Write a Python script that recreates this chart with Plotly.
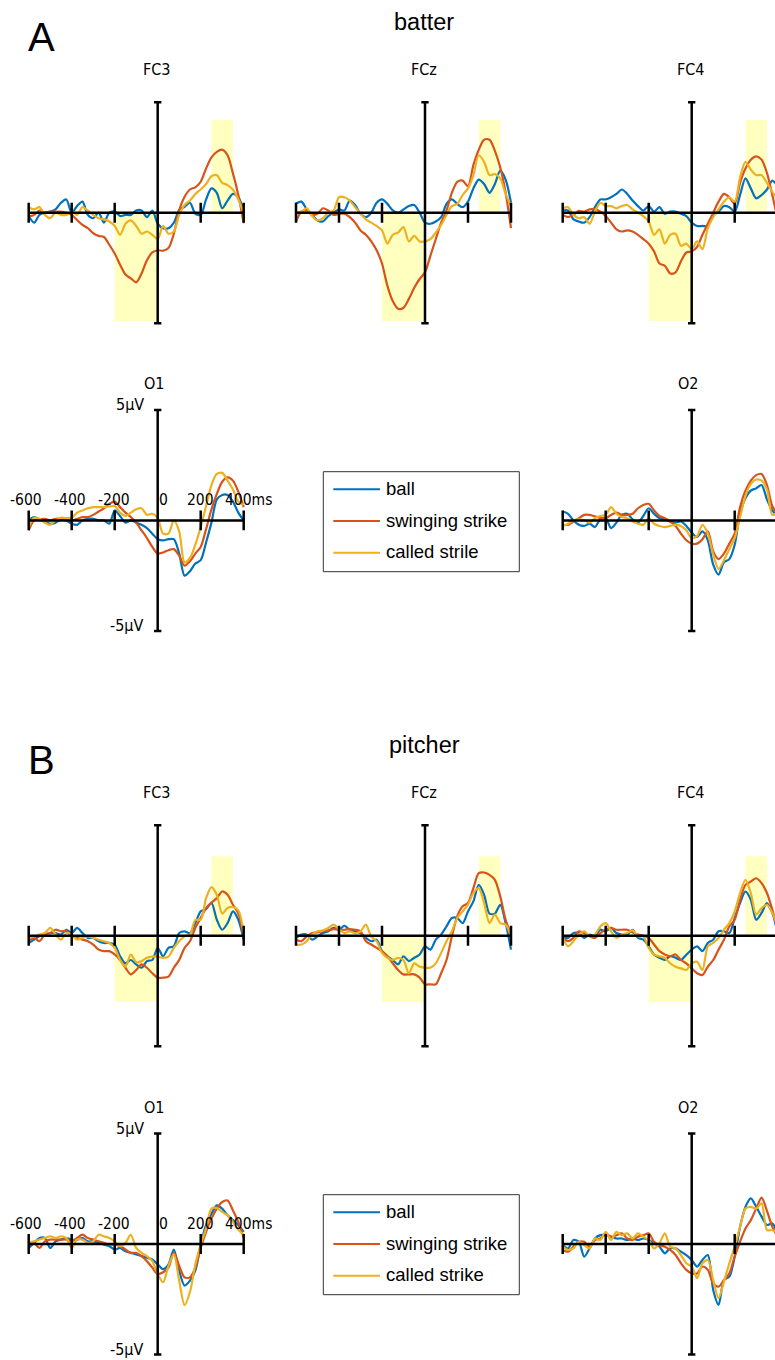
import plotly.graph_objects as go

W, H = 775, 1360

# ---------------- data ----------------
time_ms = list(range(-600, 401, 25))

series_names = ["ball", "swinging strike", "called strike"]
legend_labels_batter = ["ball", "swinging strike", "called strile"]
legend_labels_pitcher = ["ball", "swinging strike", "called strike"]
series_colors = ["#0072BD", "#D95319", "#EDB120"]

# batter (A)
batter_FC3_ball = [-0.15,-0.45,-0.1,0.0,0.05,0.15,0.45,0.6,0.0,0.3,0.5,-0.1,-0.25,0.0,-0.45,0.0,0.05,-0.15,-0.1,-0.1,0.1,0.1,-0.2,0.1,-0.5,-0.7,-0.7,-0.45,0.12,0.27,0.45,-0.05,-0.1,0.6,1.1,0.9,0.2,0.55,0.85,0.7,0.1]
batter_FC3_swing = [-0.18,-0.1,0.1,0.0,0.05,0.05,0.05,0.0,-0.1,-0.33,-0.55,-0.7,-0.93,-1.05,-1.1,-1.45,-1.85,-2.35,-2.8,-2.97,-3.15,-2.75,-2.15,-1.8,-1.7,-1.72,-1.6,-0.95,0.12,0.72,1.05,1.15,1.4,2.0,2.5,2.75,2.85,2.6,1.78,0.8,-0.48]
batter_FC3_called = [0.25,0.15,0.25,-0.1,-0.25,0.0,-0.1,-0.1,0.05,-0.1,0.25,0.1,-0.1,-0.25,-0.3,-0.4,-0.6,-1.0,-0.5,-0.35,-0.6,-0.95,-0.85,-1.0,-1.2,-0.6,-0.95,-0.85,-0.1,0.35,0.55,0.85,1.05,1.3,1.65,1.7,1.35,1.25,1.05,0.6,0.0]

batter_FCz_ball = [0.42,0.5,0.15,-0.1,-0.35,-0.4,-0.15,0.0,0.15,0.1,0.55,0.35,-0.05,-0.2,0.0,0.45,0.6,0.4,0.1,0.0,0.15,0.3,0.35,0.0,-0.45,-0.5,-0.4,-0.2,0.4,0.6,0.4,0.25,0.5,1.1,1.5,1.3,0.9,1.3,1.9,1.5,0.45]
batter_FCz_swing = [-0.4,0.05,0.1,-0.1,-0.05,0.2,0.1,-0.1,-0.05,-0.05,-0.2,-0.45,-0.8,-1.0,-1.3,-1.7,-2.3,-3.3,-4.0,-4.35,-4.3,-3.9,-3.4,-3.0,-2.7,-1.95,-1.2,-0.45,0.1,0.9,1.4,1.45,1.2,2.15,2.85,3.3,3.3,2.8,2.05,0.9,-0.7]
batter_FCz_called = [0.0,0.05,0.2,-0.15,-0.35,-0.25,0.0,0.1,0.7,0.7,0.55,0.25,-0.05,-0.3,-0.45,-0.6,-0.8,-1.4,-1.0,-0.9,-0.65,-1.3,-1.05,-1.3,-1.3,-1.2,-0.9,-0.55,-0.1,0.3,0.4,0.8,1.1,1.7,2.6,2.3,1.7,1.75,1.55,0.85,0.3]

batter_FC4_ball = [0.1,0.1,-0.3,-0.4,-0.45,-0.2,0.25,0.6,0.6,0.7,0.85,1.05,0.85,0.55,0.3,0.1,0.3,0.05,0.25,-0.05,0.05,0.05,-0.05,-0.15,-0.45,-0.6,-0.6,-0.6,-0.1,0.05,0.3,0.25,0.05,0.8,1.55,1.1,0.65,0.8,1.05,1.45,1.2]
batter_FC4_swing = [-0.1,-0.2,-0.1,0.08,0.05,0.15,0.15,0.05,-0.15,-0.45,-0.75,-0.85,-0.8,-0.85,-1.0,-1.2,-1.4,-1.75,-2.3,-2.4,-2.75,-2.7,-2.2,-1.8,-1.75,-1.55,-1.0,-0.5,0.0,0.5,0.85,0.7,0.4,1.35,2.0,2.4,2.55,2.4,1.8,0.8,-0.3]
batter_FC4_called = [0.2,0.25,-0.1,-0.25,-0.2,-0.5,0.05,0.45,0.3,0.3,0.2,0.3,0.35,0.15,0.0,-0.15,-0.4,-1.0,-0.75,-1.4,-1.0,-0.95,-1.5,-1.4,-1.65,-1.3,-1.65,-0.7,-0.2,0.15,0.5,0.7,0.5,1.6,2.3,1.95,1.7,1.7,1.35,0.95,0.6]

batter_O1_ball = [0.0,0.15,0.05,-0.05,-0.15,-0.1,0.05,0.0,-0.15,-0.2,0.0,0.07,0.07,0.0,0.0,-0.15,0.45,0.2,-0.1,0.0,-0.1,-0.2,-0.35,-0.6,-0.85,-0.9,-0.85,-0.85,-1.5,-2.5,-2.3,-1.95,-1.8,-1.0,-0.1,0.95,1.15,1.15,0.85,0.35,0.0]
batter_O1_swing = [-0.45,0.0,0.05,0.07,0.0,0.07,0.07,0.0,0.0,0.07,0.15,0.15,0.25,0.4,0.55,0.75,0.85,0.6,0.35,0.15,-0.1,-0.45,-0.8,-1.2,-1.5,-1.45,-1.35,-1.3,-1.6,-2.05,-1.85,-1.5,-1.2,-0.4,0.5,1.2,1.75,1.95,1.8,1.3,0.6]
batter_O1_called = [-0.3,0.12,0.07,-0.1,-0.2,0.0,0.12,0.1,0.12,0.35,0.45,0.55,0.6,0.6,0.6,0.63,0.65,0.35,0.2,0.35,0.5,0.55,0.25,0.3,0.1,-0.6,-0.6,0.0,-0.5,-1.9,-1.7,-1.1,-0.3,0.65,1.6,2.1,2.15,1.8,1.4,0.85,0.7]

batter_O2_ball = [0.4,0.3,0.0,-0.2,-0.25,-0.15,-0.3,0.05,0.1,-0.35,-0.1,0.25,0.3,0.05,-0.1,0.2,0.55,0.3,0.1,0.05,-0.05,-0.1,-0.05,-0.25,-0.55,-0.75,-0.5,-0.9,-2.0,-2.45,-1.9,-1.75,-1.1,0.3,1.0,1.35,1.45,1.6,0.95,0.45,0.2]
batter_O2_swing = [-0.2,-0.2,-0.05,0.1,0.25,0.25,0.18,0.1,0.1,0.25,0.35,0.25,0.25,0.3,0.55,0.7,0.75,0.45,0.2,0.1,-0.05,-0.25,-0.6,-0.9,-1.05,-1.05,-0.85,-0.5,-1.4,-1.75,-1.5,-1.05,-0.6,0.6,1.35,1.8,2.05,2.1,1.6,0.65,0.3]
batter_O2_called = [-0.25,-0.15,0.0,0.05,0.0,-0.1,0.1,0.2,0.25,0.6,0.3,0.15,0.1,-0.05,-0.15,-0.2,0.1,-0.15,-0.25,-0.3,-0.25,-0.2,-0.25,-0.45,-0.8,-0.7,-0.2,-0.6,-1.55,-2.2,-1.8,-1.3,-0.8,0.15,1.1,1.65,1.85,1.8,1.4,0.25,0.35]

# pitcher (B)
pitcher_FC3_ball = [-0.33,-0.18,-0.03,0.05,0.12,0.12,0.05,0.27,0.12,0.35,0.12,-0.1,-0.1,-0.25,-0.33,-0.33,-0.4,-0.93,-1.25,-1.1,-1.3,-1.45,-1.15,-1.1,-0.55,-0.93,-0.55,-0.48,0.12,0.2,0.12,0.57,1.1,1.2,1.48,0.72,0.27,0.57,1.1,0.72,-0.18]
pitcher_FC3_swing = [-0.25,-0.1,-0.25,0.05,0.12,0.27,0.2,0.2,-0.03,-0.1,-0.18,-0.25,-0.4,-0.63,-0.7,-0.7,-0.85,-1.1,-1.45,-1.75,-1.55,-1.3,-1.45,-1.7,-1.9,-1.9,-1.85,-1.45,-1.1,-0.55,-0.25,0.35,0.8,1.25,1.5,1.7,2.0,1.85,1.4,1.0,-0.03]
pitcher_FC3_called = [-0.1,-0.03,0.05,0.12,0.35,0.05,-0.18,0.12,0.05,-0.18,-0.1,-0.03,-0.1,-0.18,-0.25,-0.33,-0.55,-1.1,-1.4,-0.85,-1.2,-1.15,-1.0,-0.95,-0.95,-1.0,-0.95,-0.55,-0.25,-0.03,0.05,0.72,0.72,1.7,2.2,1.85,1.0,1.25,1.3,1.15,0.12]

pitcher_FCz_ball = [-0.1,0.05,0.05,-0.18,-0.03,0.12,0.2,0.35,0.27,0.45,0.27,0.2,0.12,-0.1,-0.25,-0.18,-0.7,-0.93,-1.1,-1.3,-0.93,-1.15,-1.0,-0.85,-0.48,-0.63,-0.18,0.05,0.42,0.8,0.8,0.57,1.1,1.55,2.3,1.85,1.0,1.0,1.4,0.57,-0.63]
pitcher_FCz_swing = [-0.18,-0.25,-0.03,0.12,0.15,0.2,0.24,0.3,0.27,0.27,0.3,0.27,0.2,-0.25,-0.4,-0.55,-0.7,-0.93,-1.25,-1.55,-1.75,-1.75,-1.75,-1.9,-2.2,-2.2,-2.2,-1.7,-1.1,-0.03,0.88,1.33,1.48,2.15,2.83,2.86,2.75,2.53,1.78,0.72,0.05]
pitcher_FCz_called = [-0.4,-0.4,-0.25,0.05,0.2,0.24,0.35,0.5,0.3,0.12,0.2,0.12,0.2,0.5,-0.03,-0.25,-0.78,-1.0,-1.1,-1.0,-1.1,-1.7,-1.25,-1.4,-1.45,-1.45,-1.25,-0.78,-0.25,0.2,0.8,1.1,1.4,1.93,2.15,1.48,0.57,0.95,0.57,0.5,-0.03]

pitcher_FC4_ball = [-0.1,-0.1,0.12,0.12,-0.1,0.05,-0.03,0.27,0.2,0.35,0.12,0.05,0.05,0.27,-0.1,-0.18,-0.48,-0.86,-1.0,-1.1,-0.93,-1.0,-1.1,-0.86,-0.63,-0.48,-0.7,-0.33,-0.18,0.2,0.2,0.12,0.8,1.48,2.0,1.63,0.72,1.03,1.48,1.03,0.12]
pitcher_FC4_swing = [-0.1,-0.25,-0.1,0.2,0.12,-0.03,-0.1,0.12,0.27,0.35,0.27,0.27,0.27,0.15,0.05,0.0,-0.1,-0.4,-0.7,-0.85,-0.93,-0.85,-1.1,-1.25,-1.48,-1.7,-1.78,-1.4,-1.1,-0.63,-0.18,0.42,0.72,1.63,2.3,2.45,2.6,2.38,1.93,1.18,0.27]
pitcher_FC4_called = [-0.1,-0.48,-0.25,0.05,0.2,-0.03,0.05,0.42,0.57,0.2,-0.1,0.05,0.12,0.24,-0.03,-0.03,-0.55,-0.86,-0.93,-1.0,-1.25,-1.4,-1.48,-1.55,-1.25,-1.18,-1.55,-0.48,-0.33,-0.1,0.27,0.57,1.1,1.93,2.53,1.93,0.95,1.25,1.4,1.03,0.42]

pitcher_O1_ball = [-0.18,0.05,0.27,0.27,-0.18,0.12,0.2,0.27,0.2,0.2,0.27,0.12,0.12,0.05,-0.03,-0.1,-0.25,-0.18,-0.33,-0.4,-0.47,-0.55,-0.62,-0.7,-0.92,-1.14,-0.92,-0.25,-1.21,-1.88,-1.66,-1.21,-0.03,0.86,1.37,1.75,1.6,1.3,1.08,0.86,0.55]
pitcher_O1_swing = [-0.03,0.05,-0.18,0.12,0.2,0.2,0.2,0.2,0.12,0.27,0.42,0.27,0.2,0.12,0.05,-0.03,-0.03,-0.1,-0.25,-0.4,-0.4,-0.55,-0.78,-1.07,-1.36,-1.28,-1.07,-0.4,-0.99,-1.51,-1.51,-1.07,-0.18,0.55,1.15,1.6,1.9,1.97,1.52,1.0,0.27]
pitcher_O1_called = [0.05,0.12,0.2,0.27,0.35,0.27,0.35,0.27,-0.18,0.2,0.2,0.05,0.12,0.42,0.35,0.27,0.12,-0.1,0.05,0.42,-0.18,-0.4,-0.55,-0.78,-1.36,-1.73,-0.99,-0.47,-1.66,-2.77,-2.17,-0.92,-0.03,0.7,1.6,1.63,1.45,1.3,1.0,0.64,0.42]

pitcher_O2_ball = [-0.05,-0.2,0.18,0.1,-0.57,-0.2,0.25,0.4,0.4,0.33,0.25,0.25,0.18,0.25,0.18,0.25,0.18,0.03,-0.12,-0.42,-0.2,-0.2,-0.35,-0.5,-0.72,-1.02,-0.72,-0.5,-2.08,-2.75,-1.63,-1.48,-0.57,0.78,1.68,2.06,1.68,1.24,0.86,0.93,0.48]
pitcher_O2_swing = [-0.27,-0.35,-0.12,0.1,0.1,-0.12,0.18,0.25,0.48,0.33,0.4,0.48,0.25,0.18,0.33,0.4,0.48,0.1,-0.05,-0.12,-0.27,-0.5,-0.87,-1.17,-1.33,-1.33,-1.02,-1.17,-1.78,-1.93,-1.63,-1.33,-0.57,0.1,0.7,1.08,1.6,2.1,1.5,0.78,0.33]
pitcher_O2_called = [-0.12,-0.27,-0.2,0.1,-0.05,-0.2,0.25,0.18,0.55,0.18,0.55,0.4,0.48,0.25,0.48,0.33,0.18,-0.2,0.03,0.48,-0.12,-0.2,-0.5,-0.87,-1.02,-1.55,-0.87,-0.72,-1.63,-2.45,-1.7,-0.87,-0.12,0.78,1.6,1.68,1.6,1.84,0.63,0.63,0.48]

# shaded analysis windows (ms) and their heights (uV)
early_window = [-200, 0]
late_window = [250, 350]
batter_shade = [-4.9, 4.2]
pitcher_shade = [-3.0, 3.6]

x_ticks = [-600, -400, -200, 200, 400]
x_tick_labels = ["-600", "-400", "-200", "0", "200", "400ms"]
x_tick_label_pos = [-600, -400, -200, 0, 200, 400]
y_limits = [-5, 5]
y_limit_labels = ["-5\u00b5V", "5\u00b5V"]

# ---------------- geometry ----------------
PX_MS = 0.215
PX_UV = 22.1
COL_X0 = [28.7, 296.0, 562.7]          # pixel of -600 ms
ROW_Y0 = {"A_FC": 212.7, "A_O": 520.4, "B_FC": 935.7, "B_O": 1244.0}
FONT = "Liberation Sans, Arial, Helvetica, sans-serif"
NARROW = "DejaVu Sans Condensed, Liberation Sans, sans-serif"

panels = [
    ("A", "FC3", 0, "FC", [batter_FC3_ball, batter_FC3_swing, batter_FC3_called]),
    ("A", "FCz", 1, "FC", [batter_FCz_ball, batter_FCz_swing, batter_FCz_called]),
    ("A", "FC4", 2, "FC", [batter_FC4_ball, batter_FC4_swing, batter_FC4_called]),
    ("A", "O1", 0, "O", [batter_O1_ball, batter_O1_swing, batter_O1_called]),
    ("A", "O2", 2, "O", [batter_O2_ball, batter_O2_swing, batter_O2_called]),
    ("B", "FC3", 0, "FC", [pitcher_FC3_ball, pitcher_FC3_swing, pitcher_FC3_called]),
    ("B", "FCz", 1, "FC", [pitcher_FCz_ball, pitcher_FCz_swing, pitcher_FCz_called]),
    ("B", "FC4", 2, "FC", [pitcher_FC4_ball, pitcher_FC4_swing, pitcher_FC4_called]),
    ("B", "O1", 0, "O", [pitcher_O1_ball, pitcher_O1_swing, pitcher_O1_called]),
    ("B", "O2", 2, "O", [pitcher_O2_ball, pitcher_O2_swing, pitcher_O2_called]),
]

fig = go.Figure()
layout = dict(width=W, height=H, margin=dict(l=0, r=0, t=0, b=0),
              paper_bgcolor="white", plot_bgcolor="rgba(0,0,0,0)",
              showlegend=False)
shapes = []
annotations = []


def pa(px, py, text, size, xanchor="center", yanchor="middle", family=FONT):
    annotations.append(dict(xref="paper", yref="paper", x=px / W, y=1 - py / H,
                            text=text, showarrow=False, xanchor=xanchor, yanchor=yanchor,
                            font=dict(family=family, size=size, color="black")))


for i, (grp, ch, col, row, curves) in enumerate(panels, start=1):
    x0 = COL_X0[col]
    y0 = ROW_Y0[grp + "_" + row]
    xl = max(x0 - 14, 0)
    xr = min(x0 + 1000 * PX_MS + 14, W)
    yt = max(y0 - 5 * PX_UV - 8, 0)
    yb = min(y0 + 5 * PX_UV + 8, H)
    xs = "" if i == 1 else str(i)
    layout["xaxis" + xs] = dict(domain=[xl / W, xr / W],
                                range=[-600 + (xl - x0) / PX_MS, -600 + (xr - x0) / PX_MS],
                                visible=False, fixedrange=True, anchor="y" + xs)
    layout["yaxis" + xs] = dict(domain=[1 - yb / H, 1 - yt / H],
                                range=[-(yb - y0) / PX_UV, (y0 - yt) / PX_UV],
                                visible=False, fixedrange=True, anchor="x" + xs)
    xref, yref = "x" + xs, "y" + xs

    if row == "FC":
        shade = batter_shade if grp == "A" else pitcher_shade
        shapes.append(dict(type="rect", xref=xref, yref=yref, layer="below",
                           x0=early_window[0], x1=early_window[1], y0=0, y1=shade[0],
                           fillcolor="#FFFFBF", line=dict(width=0)))
        shapes.append(dict(type="rect", xref=xref, yref=yref, layer="below",
                           x0=late_window[0], x1=late_window[1], y0=0, y1=shade[1],
                           fillcolor="#FFFFBF", line=dict(width=0)))

    for name, vals, c in zip(series_names, curves, series_colors):
        assert len(vals) == len(time_ms), (grp, ch, name, len(vals))
        fig.add_trace(go.Scatter(x=time_ms, y=vals, mode="lines", name=name,
                                 line=dict(color=c, width=2.2, shape="spline", smoothing=0.8),
                                 xaxis=xref, yaxis=yref, hoverinfo="skip"))

    # axes drawn as data lines
    ax_x = [-600, 400, None, 0, 0, None]
    ax_y = [0, 0, None, y_limits[0], y_limits[1], None]
    for t in x_ticks:
        ax_x += [t, t, None]
        ax_y += [-0.45, 0.45, None]
    for yl in y_limits:
        ax_x += [-17, 17, None]
        ax_y += [yl, yl, None]
    fig.add_trace(go.Scatter(x=ax_x, y=ax_y, mode="lines",
                             line=dict(color="black", width=2.5),
                             xaxis=xref, yaxis=yref, hoverinfo="skip"))

    # channel label
    if row == "FC":
        pa(x0 + 600 * PX_MS - 1, y0 - 143, ch, 16, family=NARROW)
    else:
        pa(x0 + 600 * PX_MS - 4, y0 - 137, ch, 16, family=NARROW)

    if ch == "O1":
        shifts = [-2.5, -1.5, -1, 6, 0, 0]
        for pos, lab, sh in zip(x_tick_label_pos, x_tick_labels, shifts):
            anchor = "left" if lab.endswith("ms") else "center"
            annotations.append(dict(xref=xref, yref=yref, x=pos, y=0, text=lab,
                                    showarrow=False, xanchor=anchor, yanchor="middle",
                                    xshift=(-21 if anchor == "left" else sh), yshift=20,
                                    font=dict(family=NARROW, size=15.5, color="black")))
        for yl, lab in zip(y_limits, y_limit_labels):
            annotations.append(dict(xref=xref, yref=yref, x=0, y=yl, text=lab,
                                    showarrow=False, xanchor="right", yanchor="middle",
                                    xshift=-12, yshift=5,
                                    font=dict(family=NARROW, size=16, color="black")))

# section titles and letters
for grp, title, off in [("A", "batter", 0), ("B", "pitcher", 723)]:
    pa(41, 37 + off, grp, 40)
    pa(424, 22 + off, title, 23.5)

# legends
for off, labels in [(0, legend_labels_batter), (723, legend_labels_pitcher)]:
    shapes.append(dict(type="rect", xref="paper", yref="paper",
                       x0=323.3 / W, x1=519.3 / W, y0=1 - (571.7 + off) / H, y1=1 - (471.7 + off) / H,
                       line=dict(color="#333333", width=1), fillcolor="white"))
    for k, (lab, c) in enumerate(zip(labels, series_colors)):
        ly = 489.3 + off + k * 31.7
        shapes.append(dict(type="line", xref="paper", yref="paper",
                           x0=333.3 / W, x1=380 / W, y0=1 - ly / H, y1=1 - ly / H,
                           line=dict(color=c, width=2)))
        pa(383.5, ly - 1, lab, 18.5, xanchor="left")

layout["shapes"] = shapes
layout["annotations"] = annotations
fig.update_layout(**layout)
fig.write_html("out.html")
